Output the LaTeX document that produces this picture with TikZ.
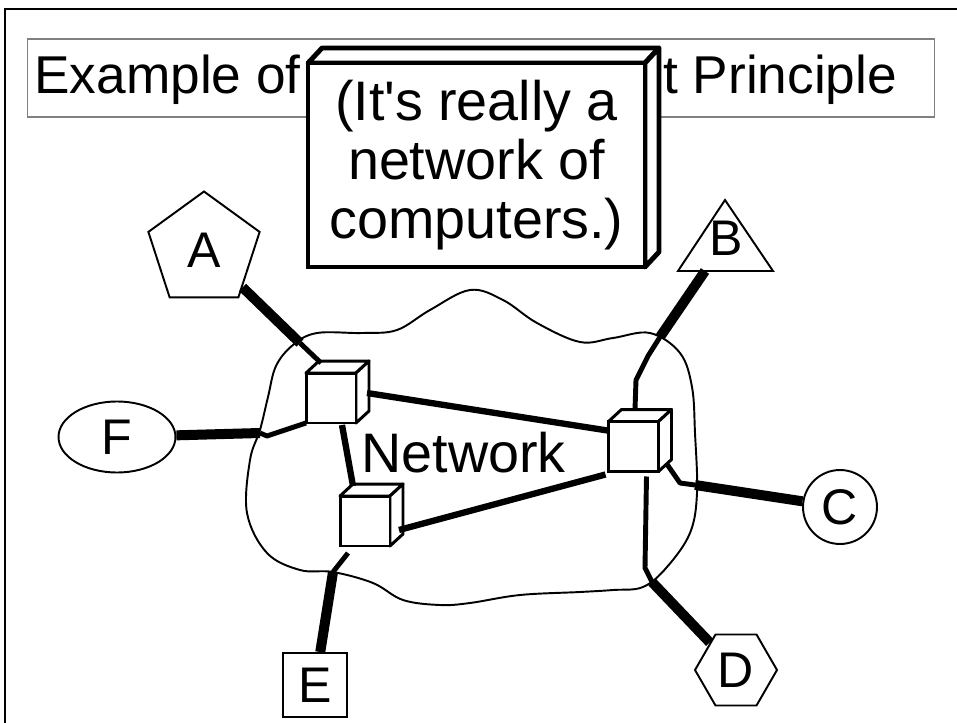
\documentclass[tikz,border=0pt]{standalone}
\usepackage{fontspec}
\setmainfont{Liberation Sans}
\usetikzlibrary{shapes.geometric}
\tikzset{
  solid box/.style n args={3}{
    append after command={
      \pgfextra{
        \draw[line width=#3,fill=white,line join=round]
          (\tikzlastnode.north west) -- ++(#1,#2)
          -- ([shift={(#1,#2)}]\tikzlastnode.north east)
          -- (\tikzlastnode.north east) -- cycle;
        \draw[line width=#3,fill=white,line join=round]
          (\tikzlastnode.north east) -- ++(#1,#2)
          -- ([shift={(#1,#2)}]\tikzlastnode.south east)
          -- (\tikzlastnode.south east) -- cycle;
      }
    }
  },
  cube/.style={
    rectangle, draw, fill=white, line width=1.7pt,
    minimum size=1cm, inner sep=0pt, outer sep=0pt,
    solid box={13}{-12}{1.7pt}
  },
  callout/.style={
    rectangle, draw, fill=white, line width=2.8pt,
    minimum width=6.74cm, minimum height=4.08cm,
    inner sep=0pt, outer sep=0pt, align=center,
    font=\fontsize{31.7pt}{33.7pt}\selectfont,
    solid box={14}{-15}{2.8pt}
  },
  host/.style={
    draw, fill=white, line width=1.1pt, inner sep=0pt,
    font=\fontsize{28.5pt}{32pt}\selectfont
  },
  trunk/.style={line width=5.7pt},
  tail/.style={line width=2.8pt, line join=round},
  backbone/.style={line width=3.6pt},
}

\begin{document}
\begin{tikzpicture}[x=0.02cm,y=-0.02cm]
  \useasboundingbox (0,0) rectangle (957,723);
  \draw[line width=1.7pt] (5,9) rectangle (975,745);

  % title, partly hidden by the callout
  \node (title) [draw=gray, line width=0.6pt, minimum width=18.16cm, minimum height=1.56cm] at (481,78) {};
  \node (title-l) [anchor=base west, inner sep=0pt, font=\fontsize{30.3pt}{34pt}\selectfont] at (34,93) {Example of};
  \node (title-r) [anchor=base west, inner sep=0pt, font=\fontsize{30.3pt}{34pt}\selectfont] at (663,93) {t Principle};
  \node (note) [callout] at (476.5,165) {(It\textquotesingle s really a\\network of\\computers.)};

  % the network cloud
  \draw[line width=1.1pt] plot[smooth cycle, tension=0.6] coordinates {
    (317,333) (363,333) (397,330) (430,310) (470,290) (503,300) (537,323)
    (580,342) (613,338) (650,333) (680,353) (692,387) (695,433) (697,493)
    (690,533) (667,567) (643,587) (613,590) (580,592) (520,595) (470,603)
    (440,605) (403,600) (373,583) (333,572) (300,570) (267,553) (247,513)
    (250,460) (260,430) (268,397) (276,366) (293,345)};
  \node (net) [anchor=base west, inner sep=0pt, font=\fontsize{31.7pt}{36pt}\selectfont] at (361,472) {Network};

  % end hosts
  \node (A) [host, regular polygon, regular polygon sides=5, minimum size=2.34cm] at (204,250) {A};
  \draw[host] (725,200) -- (773,271) -- (678,271) -- cycle;
  \node (B) [font=\fontsize{28.5pt}{32pt}\selectfont, inner sep=0pt] at (726,238) {B};
  \node (C) [host, circle, minimum size=1.48cm] at (840,507) {C};
  \node (D) [host, regular polygon, regular polygon sides=6, minimum size=1.64cm] at (736,670) {D};
  \node (E) [host, rectangle, minimum size=1.28cm] at (315,685) {E};
  \node (F) [host, ellipse, minimum width=2.34cm, minimum height=1.42cm] at (117,437) {F};

  % switches
  \node (s1) [cube] at (331,398) {};
  \node (s2) [cube] at (365,521) {};
  \node (s3) [cube] at (633.5,446.5) {};

  \coordinate (a-in) at (300,343);
  \coordinate (b-port) at (705,271);
  \coordinate (b-in) at (660,337);
  \coordinate (c-in) at (695,485);
  \coordinate (d-in) at (652,582);
  \coordinate (e-in) at (333,572);
  \coordinate (f-in) at (260,433);

  \draw[trunk] (A) -- (a-in);
  \draw[tail] (a-in) -- ([shift={(15,-10)}]s1.north west);
  \draw[trunk] (b-port) -- (b-in);
  \draw[tail] (b-in) -- (648,356) -- (636,380) -- ([shift={(1.5,-12)}]s3.north);
  \draw[tail] ([shift={(8,-8)}]s3.south east) -- (680,483) -- (c-in);
  \draw[trunk] (c-in) -- (C);
  \draw[tail] ([shift={(13,5)}]s3.south) -- (645,568) -- (d-in);
  \draw[trunk] (d-in) -- (D);
  \draw[tail] ([shift={(-17,7)}]s2.south) -- (e-in);
  \draw[trunk] (e-in) -- (E);
  \draw[trunk] (F) -- (f-in);
  \draw[tail] (f-in) -- (267,436) -- (s1.south west);

  \draw[backbone] ([shift={(11,2)}]s1.south) -- ([shift={(13,-10)}]s2.north west);
  \draw[backbone] ([shift={(11,-5)}]s1.east) -- ([shift={(-1,9)}]s3.north west);
  \draw[backbone] ([shift={(9,9)}]s2.east) -- ([shift={(-3,3)}]s3.south west);
\end{tikzpicture}
\end{document}
